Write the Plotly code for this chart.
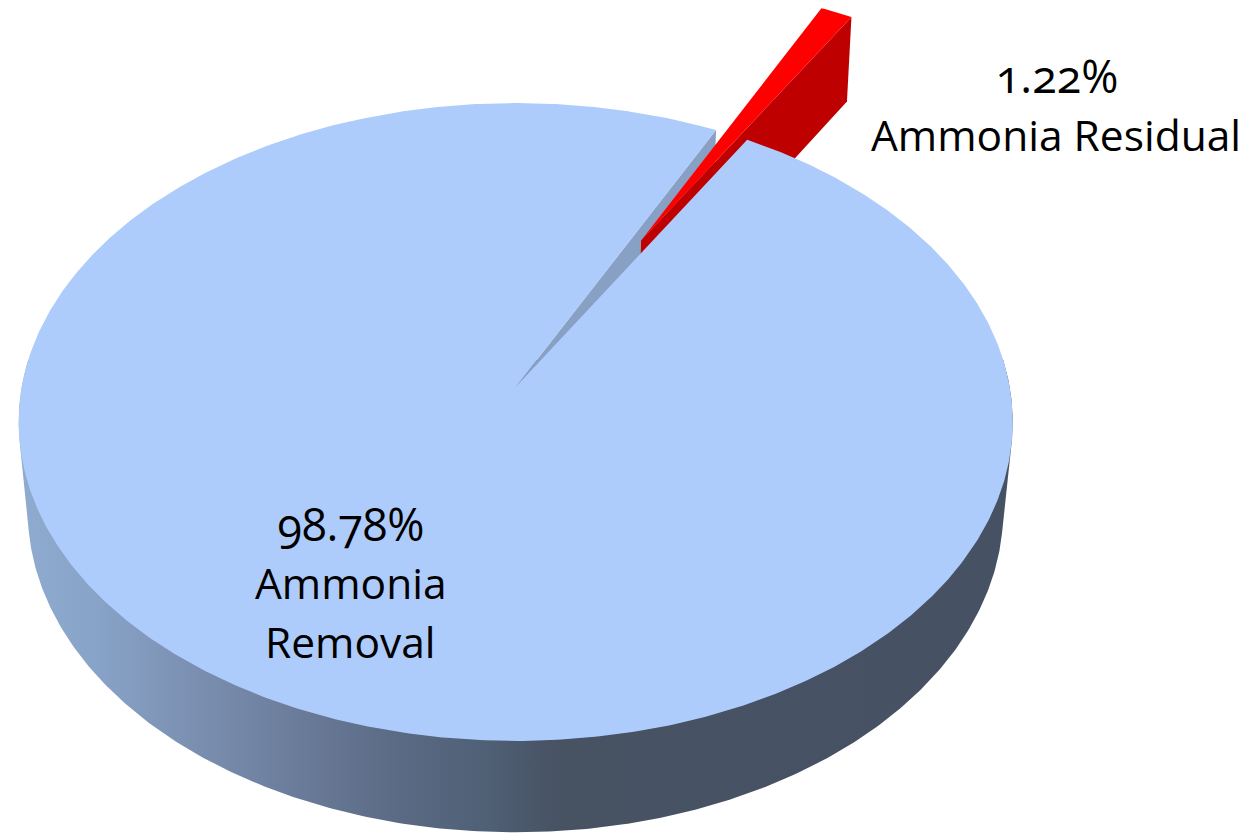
import numpy as np
import plotly.graph_objects as go

# Data
categories = ["Ammonia Removal", "Ammonia Residual"]
values = [98.78, 1.22]
label_lines = [["98.78%", "Ammonia", "Removal"], ["1.22%", "Ammonia Residual"]]
label_x = [[351, 351, 350], [1057, 1056]]
label_baseline = [[540, 598, 657], [92, 150]]
label_size = [[45, 42.5, 42.5], [45, 42.5]]

# Pie geometry (first slice boundary, clockwise from top; explosion as a fraction of radius)
ROTATION_DEG = 26.45
EXPLODE = 0.558
TOP = dict(cx=515.7, cy=387.0, R=494.0, Rk=315.1, p=0.1097)
BOT = dict(cx=515.5, cy=477.0, R=485.0, Rk=318.0, p=0.105)

BLUE = "#AECCFB"
WALL = "#87A0C3"
RED = "#FF0000"
DARK_RED = "#BE0000"
SIDE_SCALE = [[0.0, "#90ABD0"], [0.08, "#88A3C8"], [0.155, "#7E94B6"], [0.285, "#6A7B99"],
              [0.385, "#5A6A84"], [0.475, "#4F5F74"], [0.545, "#475263"], [1.0, "#465264"]]
FONT = "Open Sans"


def project(plane, u, v):
    w = 1 - plane["p"] * np.asarray(v, float)
    return plane["cx"] + plane["R"] * np.asarray(u, float) / w, plane["cy"] + plane["Rk"] * np.asarray(v, float) / w


def disc(deg, ou=0.0, ov=0.0):
    t = np.radians(deg)
    return np.sin(t) + ou, -np.cos(t) + ov


def hull(x, y):
    pts = sorted(set(zip(np.round(x, 2).tolist(), np.round(y, 2).tolist())))

    def half(seq):
        out = []
        for p in seq:
            while len(out) > 1 and (out[-1][0] - out[-2][0]) * (p[1] - out[-2][1]) - (out[-1][1] - out[-2][1]) * (p[0] - out[-2][0]) <= 0:
                out.pop()
            out.append(p)
        return out[:-1]

    h = half(pts) + half(pts[::-1])
    return [p[0] for p in h] + [h[0][0]], [p[1] for p in h] + [h[0][1]]


def poly(x, y, color, name, **kw):
    return go.Scatter(x=list(x), y=list(y), mode="lines", fill="toself", fillcolor=color,
                      line=dict(width=0, color=color), hoverinfo="skip", name=name, showlegend=False, **kw)


span = [v / sum(values) * 360 for v in values]
a0 = ROTATION_DEG            # left edge of the notch
a1 = ROTATION_DEG + span[1]  # right edge of the notch
mid = (a0 + a1) / 2
ou, ov = disc(mid)
ou, ov = ou * EXPLODE, ov * EXPLODE

fig = go.Figure()

# Rim of the pie: only the front half, so that nothing fringes the back of the top face
ring = np.linspace(85, 275, 381)
xt, yt = project(TOP, *disc(ring))
xb, yb = project(BOT, *disc(ring))
hx, hy = hull(np.r_[xt, xb], np.r_[yt, yb])
fig.add_trace(go.Scatter(x=hx, y=hy, mode="lines", fill="toself",
                         line=dict(width=0), hoverinfo="skip", showlegend=False, name="rim",
                         fillgradient=dict(type="horizontal", colorscale=SIDE_SCALE, start=18, stop=1012)))

# Inner wall of the notch
cx_t, cy_t = project(TOP, 0, 0)
cx_b, cy_b = project(BOT, 0, 0)
ex_t, ey_t = project(TOP, *disc(a0))
ex_b, ey_b = project(BOT, *disc(a0))
fig.add_trace(poly([cx_t, ex_t, ex_b, cx_b, cx_t], [cy_t, ey_t, ey_b, cy_b, cy_t], WALL, "notch wall"))

# Exploded slice
arc = np.linspace(a0, a1, 8)
tipx_t, tipy_t = project(TOP, ou, ov)
tipx_b, tipy_b = project(BOT, ou, ov)
rx_t, ry_t = project(TOP, *disc(a1, ou, ov))
rx_b, ry_b = project(BOT, *disc(a1, ou, ov))
fig.add_trace(poly([rx_t, rx_b, tipx_b, tipx_t, rx_t], [ry_t, ry_b, tipy_b, tipy_t, ry_t], DARK_RED, categories[1] + " wall"))
ax, ay = project(TOP, *disc(arc, ou, ov))
fig.add_trace(poly([tipx_t, *ax, tipx_t], [tipy_t, *ay, tipy_t], RED, categories[1]))

# Main slice
arc2 = np.linspace(a1, a0 + 360, 720)
bx, by = project(TOP, *disc(arc2))
fig.add_trace(poly([cx_t, *bx, cx_t], [cy_t, *by, cy_t], BLUE, categories[0]))

for lines, xs, bases, sizes in zip(label_lines, label_x, label_baseline, label_size):
    for text, x, base, size in zip(lines, xs, bases, sizes):
        fig.add_annotation(x=x, y=base - 0.36 * size, text=text, xref="x", yref="y", showarrow=False,
                           xanchor="center", yanchor="middle",
                           font=dict(family=FONT, size=size, color="#000000"))

fig.update_layout(width=1251, height=834, margin=dict(l=0, r=0, t=0, b=0),
                  paper_bgcolor="white", plot_bgcolor="white", showlegend=False,
                  xaxis=dict(range=[0, 1251], visible=False, fixedrange=True),
                  yaxis=dict(range=[834, 0], visible=False, fixedrange=True))

post = """
document.body.style.margin='0';document.documentElement.style.overflow='hidden';
var s=document.createElement('style');s.textContent='.annotation text,.annotation tspan{font-feature-settings:"onum" 1;}';document.head.appendChild(s);
"""
fig.write_html("out.html", post_script=post, config={"displayModeBar": False})
